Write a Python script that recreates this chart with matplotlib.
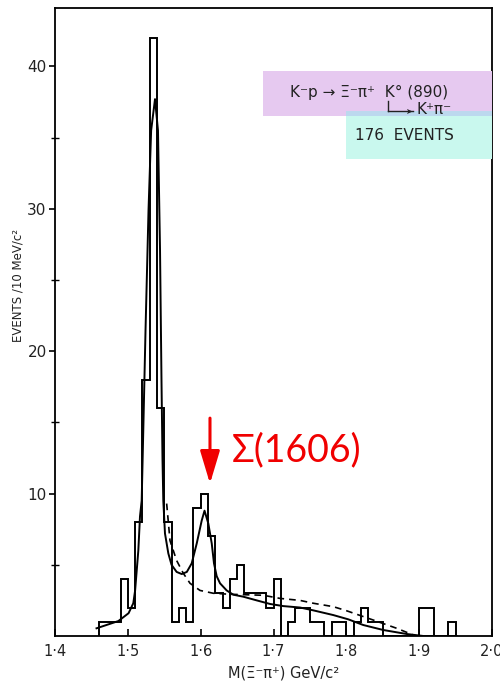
import numpy as np
import matplotlib.pyplot as plt
from matplotlib.patches import Rectangle

# histogram: 10 MeV bins starting at 1.46 GeV
bin_start = 1.46
bin_width = 0.01
counts = [1, 1, 1, 4, 2, 8, 18, 42, 16, 8,
          1, 2, 1, 9, 10, 7, 3, 2, 4, 5,
          3, 3, 3, 2, 4, 0, 1, 2, 2, 1,
          1, 0, 1, 1, 0, 1, 2, 1, 1, 0,
          0, 0, 0, 0, 2, 2, 0, 0, 1]

# fitted curve
fit_x = [1.457, 1.487, 1.501, 1.5075, 1.510, 1.5144, 1.5167, 1.519, 1.5204, 1.5243,
         1.5284, 1.532, 1.5373, 1.5414, 1.5442, 1.5462, 1.5476, 1.5487, 1.551, 1.5556,
         1.560, 1.567, 1.574, 1.581, 1.5877, 1.5946, 1.6014, 1.6053, 1.6105, 1.6152,
         1.6183, 1.622, 1.6266, 1.6357, 1.6448, 1.6585, 1.677, 1.6952, 1.7135, 1.7364,
         1.7547, 1.7821, 1.8027, 1.8233, 1.8508, 1.8829, 1.9057, 1.9516]
fit_y = [0.54, 1.05, 1.6, 2.3, 3.2, 6.0, 8.4, 9.5, 12.6, 21.5,
         29.9, 35.5, 37.7, 35.5, 27.1, 18.0, 12.4, 9.5, 7.2, 5.8,
         5.0, 4.5, 4.35, 4.5, 5.1, 6.5, 8.1, 8.8, 7.9, 6.5,
         5.1, 4.2, 3.7, 3.2, 2.9, 2.76, 2.5, 2.25, 2.1, 2.0,
         1.8, 1.47, 1.17, 0.77, 0.42, 0.14, 0.0, 0.0]

# background curve (dashed)
bkg_x = [1.5533, 1.5579, 1.567, 1.5762, 1.5854, 1.5991, 1.6174, 1.6403, 1.686, 1.709,
         1.7364, 1.7547, 1.7821, 1.8005, 1.837, 1.8692, 1.892]
bkg_y = [9.3, 6.7, 5.3, 4.4, 3.7, 3.2, 3.0, 2.93, 2.86, 2.64,
         2.5, 2.3, 2.06, 1.77, 1.12, 0.54, 0.07]

xticks = [1.4, 1.5, 1.6, 1.7, 1.8, 1.9, 2.0]
xticklabels = ["1·4", "1·5", "1·6", "1·7", "1·8", "1·9", "2·0"]
yticks = [10, 20, 30, 40]

edges = np.round(bin_start + bin_width * np.arange(len(counts) + 1), 3)

W, H = 500, 684
fig = plt.figure(figsize=(5, 6.84), dpi=100)
ax = fig.add_axes([55 / W, 1 - 636 / H, 437 / W, 628 / H])

ax.stairs(counts, edges, baseline=0, color="black", lw=1.4)
ax.plot(fit_x, fit_y, color="black", lw=1.4)
ax.plot(bkg_x, bkg_y, color="black", lw=1.2, linestyle=(0, (4, 3)))

ax.set_xlim(1.4, 2.0)
ax.set_ylim(0, 44.1)
ax.set_xticks(xticks)
ax.set_xticklabels(xticklabels, fontsize=10.5, color="#222222")
ax.set_yticks(yticks)
ax.set_yticklabels([str(v) for v in yticks], fontsize=11, color="#222222")
ax.set_yticks([5, 15, 25, 35], minor=True)
ax.tick_params(axis="x", direction="in", length=5, width=1.2, pad=6)
ax.tick_params(axis="y", which="major", direction="out", length=4, width=1.2, pad=2)
ax.tick_params(axis="y", which="minor", direction="inout", length=6, width=1.0)
for s in ax.spines.values():
    s.set_linewidth(1.3)

def fx(px):
    return px / W

def fy(py):
    return 1 - py / H

fig.text(fx(18), fy(285), "EVENTS /10 MeV/c²", rotation=90, ha="center", va="center",
         fontsize=8.5, color="#222222")
fig.text(fx(284), fy(673), "M(Ξ⁻π⁺) GeV/c²", ha="center", va="center",
         fontsize=10.5, color="#222222")

# reaction label boxes
fig.patches.append(Rectangle((fx(263), fy(116)), 229 / W, 45 / H, transform=fig.transFigure,
                             facecolor="#e6c9f0", edgecolor="none", zorder=0))
fig.patches.append(Rectangle((fx(346), fy(159)), 146 / W, 48 / H, transform=fig.transFigure,
                             facecolor="#c9f8ee", edgecolor="none", zorder=0))
fig.patches.append(Rectangle((fx(346), fy(116)), 146 / W, 5 / H, transform=fig.transFigure,
                             facecolor="#bcd8ee", edgecolor="none", zorder=0))
fig.text(fx(290), fy(92), "K⁻p → Ξ⁻π⁺  K° (890)", ha="left", va="center",
         fontsize=11, color="#222222")
fig.add_artist(plt.Line2D([fx(388), fx(388)], [fy(101), fy(111)], transform=fig.transFigure,
                          color="#222222", lw=1.0))
fig.add_artist(plt.Line2D([fx(388), fx(413)], [fy(111), fy(111)], transform=fig.transFigure,
                          color="#222222", lw=1.0))
fig.text(fx(405), fy(111), "➤", ha="left", va="center", fontsize=6, color="#222222")
fig.text(fx(416), fy(110), "K⁺π⁻", ha="left", va="center", fontsize=11, color="#222222")
fig.text(fx(355), fy(136), "176  EVENTS", ha="left", va="center", fontsize=11, color="#222222")

# red annotation
ax.annotate("", xy=(1.6128, 10.7), xytext=(1.6128, 15.3),
            arrowprops=dict(arrowstyle="-|>,head_length=1.0,head_width=0.3",
                            color="#f00000", lw=2.2, mutation_scale=20, shrinkA=0, shrinkB=0))
ax.text(1.6426, 13.05, "Σ(1606)", ha="left", va="center", fontsize=27, color="#f00000",
        family=["Lato", "DejaVu Sans"])

fig.savefig("out.png", dpi=100)
